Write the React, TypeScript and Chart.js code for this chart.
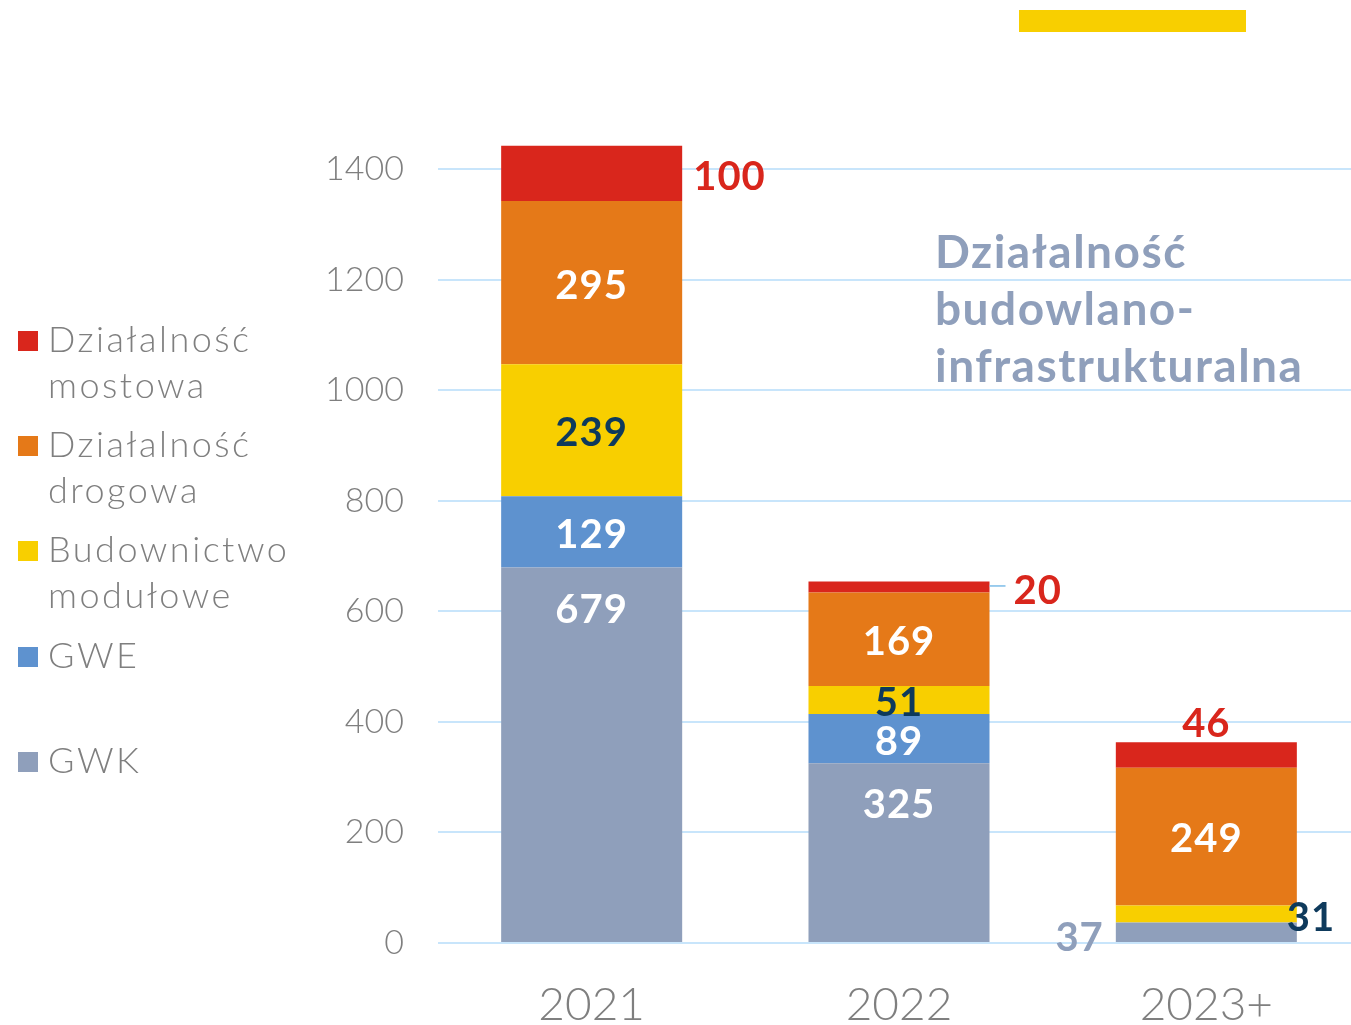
import React, { useEffect, useRef } from 'react';
import { Chart, registerables } from 'chart.js';

Chart.register(...registerables);

const categories = ['2021', '2022', '2023+'];
const gwk = [679, 325, 37];
const gwe = [129, 89, 0];
const modulowe = [239, 51, 31];
const drogowa = [295, 169, 249];
const mostowa = [100, 20, 46];
const yTickValues = [0, 200, 400, 600, 800, 1000, 1200, 1400];

const seriesNames = ['GWK', 'GWE', 'Budownictwo modułowe', 'Działalność drogowa', 'Działalność mostowa'];
const seriesColors = ['#8f9fbb', '#5e92cf', '#f8cf00', '#e57918', '#d9261c'];

const legendLines = [
  ['Działalność', 'mostowa'],
  ['Działalność', 'drogowa'],
  ['Budownictwo', 'modułowe'],
  ['GWE'],
  ['GWK'],
];
const legendColors = ['#d9261c', '#e57918', '#f8cf00', '#5e92cf', '#8f9fbb'];
const titleLines = ['Działalność', 'budowlano-', 'infrastrukturalna'];

const NAVY = '#0e3a5c';
const WHITE = '#ffffff';
const RED = '#d9261c';
const GREYBLUE = '#8f9fbb';

// label placement mode and colour per series (rows) and category (columns)
const labelModes = [
  ['insideTop', 'insideTop', 'left'],
  ['center', 'center', 'none'],
  ['center', 'center', 'rightOverlap'],
  ['center', 'center', 'center'],
  ['right', 'rightLeader', 'above'],
];
const labelColors = [
  [WHITE, WHITE, GREYBLUE],
  [WHITE, WHITE, WHITE],
  [NAVY, NAVY, NAVY],
  [WHITE, WHITE, WHITE],
  [RED, RED, RED],
];

const LABEL_FONT = 'bold 40px Lato, "Open Sans", sans-serif';

const labelsPlugin = {
  id: 'segLabels',
  afterDatasetsDraw(chart: any) {
    const ctx = chart.ctx;
    ctx.save();
    ctx.font = LABEL_FONT;
    ctx.textBaseline = 'middle';
    try { (ctx as any).letterSpacing = '1px'; } catch (e) {}
    chart.data.datasets.forEach((ds: any, di: number) => {
      const meta = chart.getDatasetMeta(di);
      meta.data.forEach((bar: any, ci: number) => {
        const mode = labelModes[di][ci];
        if (mode === 'none') return;
        const val = ds.data[ci];
        const { x, y, base, width } = bar.getProps(['x', 'y', 'base', 'width'], true);
        const top = Math.min(y, base);
        const bot = Math.max(y, base);
        const cy = (top + bot) / 2;
        const left = x - width / 2;
        const right = x + width / 2;
        ctx.fillStyle = labelColors[di][ci];
        let tx = x;
        let ty = cy;
        ctx.textAlign = 'center';
        if (mode === 'insideTop') {
          ty = top + 42;
        } else if (mode === 'right') {
          ctx.textAlign = 'left';
          tx = right + 11;
          ty = cy + 4;
        } else if (mode === 'rightLeader') {
          ctx.strokeStyle = '#7dbde8';
          ctx.lineWidth = 1.5;
          ctx.beginPath();
          ctx.moveTo(right, cy - 1);
          ctx.lineTo(right + 16, cy - 1);
          ctx.stroke();
          ctx.textAlign = 'left';
          tx = right + 24;
          ty = cy + 4;
        } else if (mode === 'above') {
          ty = top - 18;
        } else if (mode === 'rightOverlap') {
          ctx.textAlign = 'left';
          tx = right - 10;
          ty = cy + 4;
        } else if (mode === 'left') {
          ctx.textAlign = 'right';
          tx = left - 12;
          ty = cy + 6;
        } else {
          ty = cy + 3;
        }
        ctx.fillText(String(val), tx, ty);
      });
    });
    ctx.restore();
  },
};

const decorPlugin = {
  id: 'decor',
  afterDraw(chart: any) {
    const ctx = chart.ctx;
    ctx.save();
    // yellow accent bar
    ctx.fillStyle = '#f8cf00';
    ctx.fillRect(1019, 10, 227, 22);
    // legend
    const baselines = [352, 457, 562, 668, 773];
    ctx.font = '300 36px Lato, "Open Sans", sans-serif';
    ctx.textAlign = 'left';
    ctx.textBaseline = 'alphabetic';
    try { (ctx as any).letterSpacing = '2.5px'; } catch (e) {}
    legendLines.forEach((lines, i) => {
      ctx.fillStyle = legendColors[i];
      ctx.fillRect(18, baselines[i] - 21, 20, 20);
      ctx.fillStyle = '#7f7f7f';
      lines.forEach((t, j) => ctx.fillText(t, 48, baselines[i] + j * 46));
    });
    // title
    ctx.font = 'bold 46px Lato, "Open Sans", sans-serif';
    try { (ctx as any).letterSpacing = '1.5px'; } catch (e) {}
    ctx.fillStyle = GREYBLUE;
    titleLines.forEach((t, j) => ctx.fillText(t, 935, 268 + j * 57));
    ctx.restore();
  },
};

export default function App() {
  const ref = useRef<HTMLCanvasElement | null>(null);
  useEffect(() => {
    if (!ref.current) return;
    const seriesData = [gwk, gwe, modulowe, drogowa, mostowa];
    const chart = new Chart(ref.current, {
      type: 'bar',
      data: {
        labels: categories,
        datasets: seriesData.map((d, i) => ({
          label: seriesNames[i],
          data: d,
          backgroundColor: seriesColors[i],
          borderWidth: 0,
          categoryPercentage: 1,
          barPercentage: 0.589,
        })),
      },
      options: {
        responsive: false,
        animation: false,
        devicePixelRatio: 1,
        layout: { padding: { top: 113.7, left: 0, right: 0, bottom: 0 } },
        plugins: {
          legend: { display: false },
          tooltip: { enabled: false },
          title: { display: false },
        },
        scales: {
          x: {
            stacked: true,
            grid: { display: false },
            border: { display: false },
            ticks: {
              color: '#7f7f7f',
              font: { family: 'Lato, "Open Sans", sans-serif', size: 46, weight: '300' },
              padding: 27,
              maxRotation: 0,
            },
            afterFit: (s: any) => {
              s.height = 82;
            },
          },
          y: {
            stacked: true,
            min: 0,
            max: 1500,
            afterBuildTicks: (s: any) => {
              s.ticks = yTickValues.map((v) => ({ value: v }));
            },
            ticks: {
              color: '#7f7f7f',
              font: { family: 'Lato, "Open Sans", sans-serif', size: 34, weight: '300' },
              padding: 34,
              callback: (v: any) => String(v),
            },
            grid: { color: '#c8e5fb', lineWidth: 2, drawTicks: false },
            border: { display: false },
            afterFit: (s: any) => {
              s.width = 438;
            },
          },
        },
      },
      plugins: [labelsPlugin, decorPlugin],
    });
    return () => chart.destroy();
  }, []);

  return (
    <div
      style={{
        position: 'absolute',
        left: 0,
        top: 0,
        width: 1351,
        height: 1025,
        overflow: 'hidden',
        background: '#ffffff',
      }}
    >
      <canvas ref={ref} width={1360} height={1025} style={{ display: 'block', width: 1360, height: 1025 }} />
    </div>
  );
}
